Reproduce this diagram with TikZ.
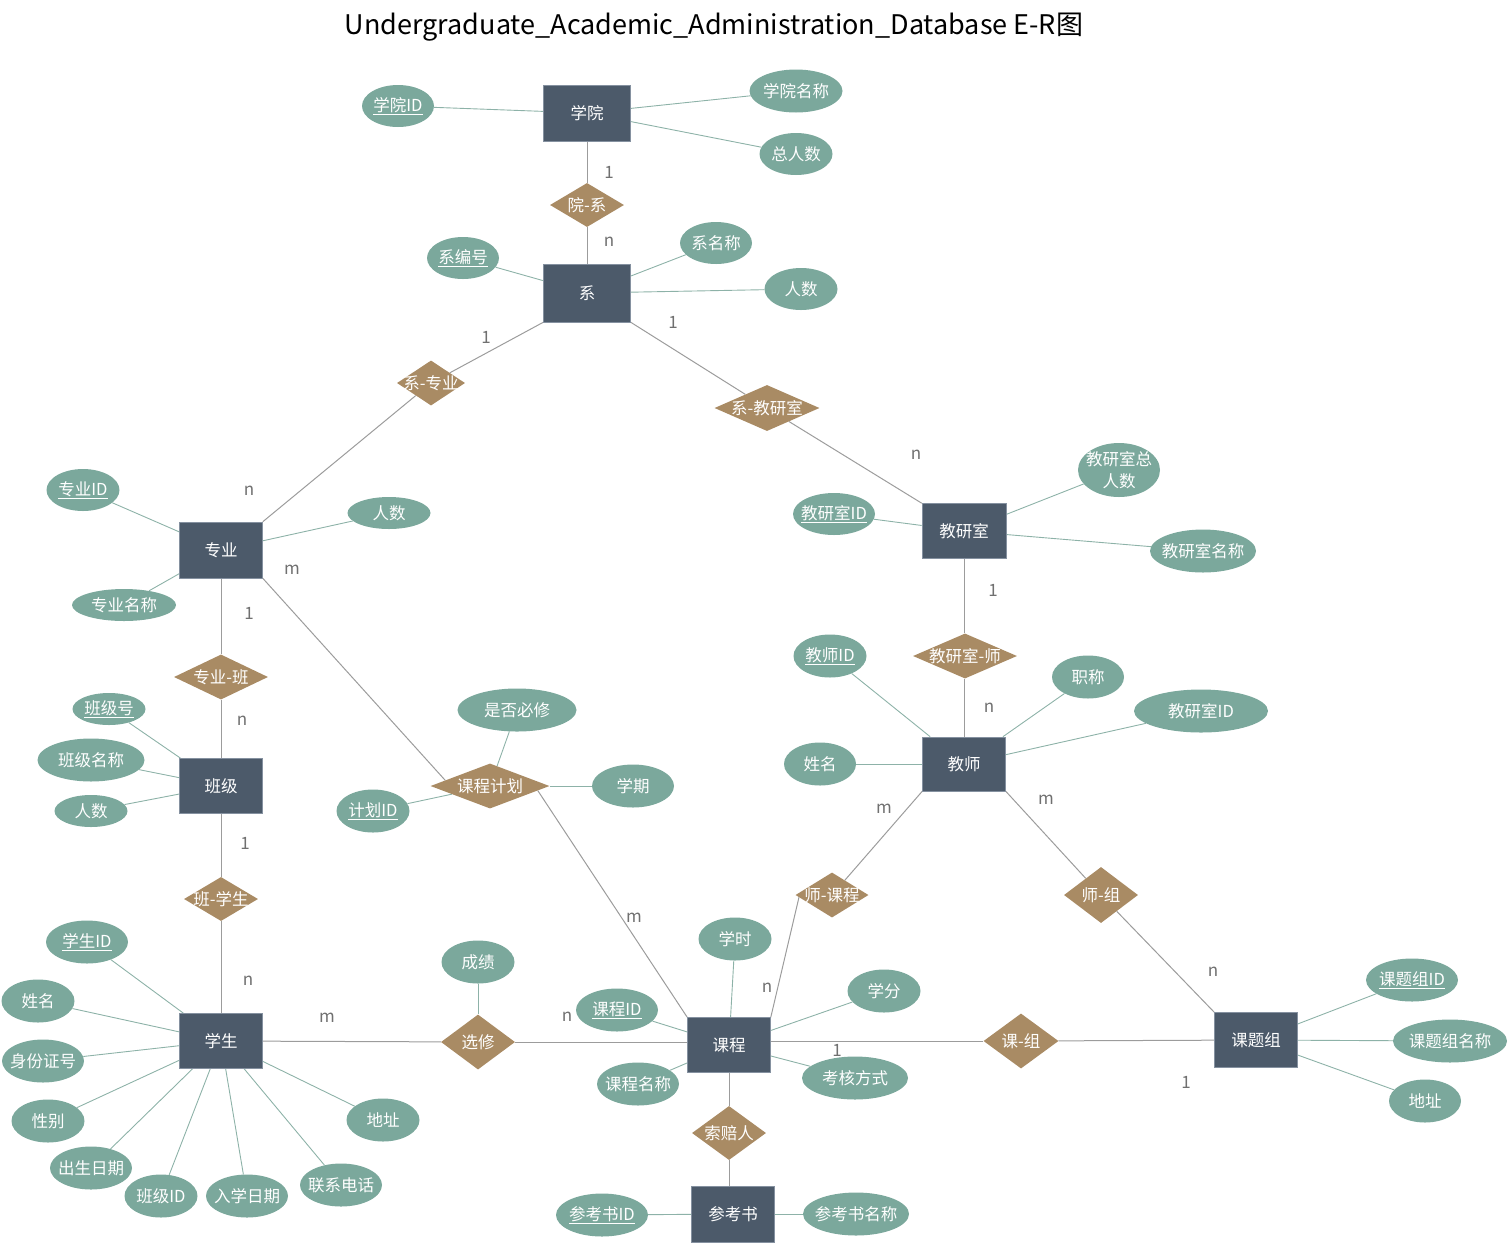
\documentclass[tikz,border=0pt]{standalone}
\usepackage{fontspec}
\usepackage{graphicx}
\setmainfont{Noto Sans CJK SC}
\usetikzlibrary{shapes.geometric,calc,backgrounds}
\definecolor{entc}{HTML}{4C5A6A}
\definecolor{entb}{HTML}{8591A0}
\definecolor{attc}{HTML}{7BA89C}
\definecolor{relc}{HTML}{A98B64}
\definecolor{rlc}{HTML}{9C9C9C}
\definecolor{alc}{HTML}{8DB2A8}
\definecolor{cardc}{HTML}{707070}
\begin{document}
\begin{tikzpicture}[x=1pt,y=-1pt,
  lbl/.style={text=white, font=\fontsize{16.5}{22}\selectfont, align=center, inner sep=0},
  ent/.style n args={2}{rectangle, fill=entc, draw=entb, line width=0.6pt, minimum width=#1, minimum height=#2, inner sep=0, text=white, font=\fontsize{16.5}{20}\selectfont},
  attr/.style n args={3}{ellipse, fill=attc, draw=none, inner sep=0, minimum width=#1, minimum height=#2, label={[lbl]center:#3}},
  rel/.style n args={3}{diamond, fill=relc, draw=none, inner sep=0, minimum width=#1, minimum height=#2, label={[lbl]center:#3}},
  card/.style={text=cardc, font=\fontsize{17}{20}\selectfont, inner sep=0},
  rl/.style={draw=rlc, line width=1pt},
  al/.style={draw=alc, line width=0.9pt}
]
\useasboundingbox (0,0) rectangle (1512,1243);

% title
\node[font=\fontsize{27}{32}\selectfont, inner sep=0] (title) at (714,27) {Undergraduate\_Academic\_Administration\_Database E-R图};

% entities
\node[ent={87}{56}] (xy) at (587,113) {学院};
\node[ent={87}{58}] (xi) at (587,293) {系};
\node[ent={83}{56}] (zy) at (221,550) {专业};
\node[ent={83}{55}] (bj) at (221,786) {班级};
\node[ent={83}{55}] (xs) at (221,1041) {学生};
\node[ent={84}{55}] (jys) at (964,531) {教研室};
\node[ent={83}{54}] (js) at (964,764) {教师};
\node[ent={83}{55}] (kc) at (729,1045) {课程};
\node[ent={83}{56}] (cks) at (733,1214) {参考书};
\node[ent={83}{55}] (ktz) at (1256,1040) {课题组};

% relationships
\node[rel={74}{44}{院-系}] (yx) at (587,205) {};
\node[rel={68}{45}{系-专业}] (xzy) at (431,383) {};
\node[rel={105}{46}{系-教研室}] (xjys) at (767,408) {};
\node[rel={94}{45}{专业-班}] (zyb) at (221,677) {};
\node[rel={74}{44}{班-学生}] (bxs) at (221,899) {};
\node[rel={119}{45}{课程计划}] (kcjh) at (490,786) {};
\node[rel={104}{45}{教研室-师}] (jyss) at (965,656) {};
\node[rel={73}{45}{师-课程}] (skc) at (832,895) {};
\node[rel={74}{56}{师-组}] (sz) at (1101,895) {};
\node[rel={74}{55}{选修}] (xx) at (478,1042) {};
\node[rel={75}{55}{课-组}] (kz) at (1021,1041) {};
\node[rel={74}{54}{索赔人}] (sp) at (729,1133) {};

% attributes
\node[attr={72}{42}{\underline{学院ID}}] (a1) at (398,106) {};
\node[attr={93}{43}{学院名称}] (a2) at (796,91) {};
\node[attr={73}{42}{总人数}] (a3) at (796,154) {};
\node[attr={72}{42}{\underline{系编号}}] (a4) at (463,258) {};
\node[attr={72}{42}{系名称}] (a5) at (716,243) {};
\node[attr={73}{42}{人数}] (a6) at (801,289) {};
\node[attr={73}{42}{\underline{专业ID}}] (a7) at (83,490) {};
\node[attr={83}{32}{人数}] (a8) at (389,513) {};
\node[attr={104}{32}{专业名称}] (a9) at (124,605) {};
\node[attr={73}{32}{\underline{班级号}}] (a10) at (109,709) {};
\node[attr={107}{43}{班级名称}] (a11) at (91,760) {};
\node[attr={73}{32}{人数}] (a12) at (91,811) {};
\node[attr={73}{43}{\underline{计划ID}}] (a13) at (373,811) {};
\node[attr={119}{43}{是否必修}] (a14) at (517,710) {};
\node[attr={82}{43}{学期}] (a15) at (633,786) {};
\node[attr={82}{42}{\underline{教研室ID}}] (a16) at (834,514) {};
\node[attr={82}{54}{教研室总\\人数}] (a17) at (1119,470) {};
\node[attr={106}{43}{教研室名称}] (a18) at (1203,551) {};
\node[attr={73}{43}{\underline{教师ID}}] (a19) at (830,656) {};
\node[attr={72}{43}{职称}] (a20) at (1088,677) {};
\node[attr={134}{43}{教研室ID}] (a21) at (1201,711) {};
\node[attr={72}{43}{姓名}] (a22) at (820,764) {};
\node[attr={82}{43}{\underline{学生ID}}] (a23) at (87,942) {};
\node[attr={73}{43}{姓名}] (a24) at (38,1001) {};
\node[attr={82}{43}{身份证号}] (a25) at (43,1061) {};
\node[attr={73}{43}{性别}] (a26) at (48,1121) {};
\node[attr={82}{43}{出生日期}] (a27) at (91,1168) {};
\node[attr={73}{43}{班级ID}] (a28) at (161,1196) {};
\node[attr={82}{43}{入学日期}] (a29) at (247,1196) {};
\node[attr={82}{43}{联系电话}] (a30) at (341,1185) {};
\node[attr={73}{43}{地址}] (a31) at (383,1120) {};
\node[attr={73}{43}{成绩}] (a32) at (478,962) {};
\node[attr={82}{43}{\underline{课程ID}}] (a33) at (617,1010) {};
\node[attr={82}{43}{课程名称}] (a34) at (638,1084) {};
\node[attr={73}{43}{学时}] (a35) at (735,939) {};
\node[attr={73}{43}{学分}] (a36) at (884,991) {};
\node[attr={106}{43}{考核方式}] (a37) at (855,1078) {};
\node[attr={92}{43}{\underline{参考书ID}}] (a38) at (602,1215) {};
\node[attr={106}{43}{参考书名称}] (a39) at (856,1214) {};
\node[attr={92}{43}{\underline{课题组ID}}] (a40) at (1412,980) {};
\node[attr={114}{43}{课题组名称}] (a41) at (1450,1041) {};
\node[attr={72}{43}{地址}] (a42) at (1425,1101) {};

% cardinalities
\node[card] (c1) at (609,172) {1};
\node[card] (c2) at (609,242) {n};
\node[card] (c3) at (486,337) {1};
\node[card] (c4) at (249,491) {n};
\node[card] (c5) at (673,322) {1};
\node[card] (c6) at (916,455) {n};
\node[card] (c7) at (292,570) {m};
\node[card] (c8) at (634,918) {m};
\node[card] (c9) at (249,613) {1};
\node[card] (c10) at (242,721) {n};
\node[card] (c11) at (245,843) {1};
\node[card] (c12) at (248,981) {n};
\node[card] (c13) at (993,590) {1};
\node[card] (c14) at (989,708) {n};
\node[card] (c15) at (884,809) {m};
\node[card] (c16) at (767,988) {n};
\node[card] (c17) at (1046,800) {m};
\node[card] (c18) at (1213,972) {n};
\node[card] (c19) at (327,1018) {m};
\node[card] (c20) at (567,1017) {n};
\node[card] (c21) at (837,1050) {1};
\node[card] (c22) at (1186,1082) {1};

\coordinate (p1) at ($(kcjh.west)!0.25!(kcjh.north)$);
\coordinate (p2) at ($(kcjh.east)!0.2!(kcjh.south)$);
\coordinate (p3) at ($(skc.west)!0.1!(skc.south)$);

\begin{pgfonlayer}{background}
% relationship connectors
\draw[rl] (xy) -- (yx);
\draw[rl] (yx) -- (xi);
\draw[rl] (xi.south west) -- (xzy);
\draw[rl] (xzy) -- (zy.north east);
\draw[rl] (xi.south east) -- (xjys);
\draw[rl] (xjys) -- (jys.north west);
\draw[rl] (zy) -- (zyb);
\draw[rl] (zyb) -- (bj);
\draw[rl] (bj) -- (bxs);
\draw[rl] (bxs) -- (xs);
\draw[rl] (zy.south east) -- (p1);
\draw[rl] (p2) -- (kc.north west);
\draw[rl] (jys) -- (jys |- jyss.north);
\draw[rl] (js |- jyss.south) -- (js);
\draw[rl] (js.south west) -- (skc);
\draw[rl] (p3) -- (kc.north east);
\draw[rl] (js.south east) -- (sz);
\draw[rl] (sz) -- (ktz.north west);
\draw[rl] (xs) -- (xx);
\draw[rl] (xx) -- (xx -| kc.west);
\draw[rl] (kz -| kc.east) -- (kz);
\draw[rl] (kz) -- (ktz);
\draw[rl] (kc) -- (sp);
\draw[rl] (sp) -- (sp |- cks.north);
% attribute connectors
\draw[al] (a1) -- (xy);
\draw[al] (a2) -- (xy);
\draw[al] (a3) -- (xy);
\draw[al] (a4) -- (xi);
\draw[al] (a5) -- (xi);
\draw[al] (a6) -- (xi);
\draw[al] (a7) -- (zy);
\draw[al] (a8) -- (zy);
\draw[al] (a9) -- (zy);
\draw[al] (a10) -- (bj);
\draw[al] (a11) -- (bj);
\draw[al] (a12) -- (bj);
\draw[al] (a13) -- (kcjh);
\draw[al] (a14) -- (kcjh);
\draw[al] (a15) -- (kcjh);
\draw[al] (a16) -- (jys);
\draw[al] (a17) -- (jys);
\draw[al] (a18) -- (jys);
\draw[al] (a19) -- (js);
\draw[al] (a20) -- (js);
\draw[al] (a21) -- (js);
\draw[al] (a22) -- (js);
\draw[al] (a23) -- (xs);
\draw[al] (a24) -- (xs);
\draw[al] (a25) -- (xs);
\draw[al] (a26) -- (xs);
\draw[al] (a27) -- (xs);
\draw[al] (a28) -- (xs);
\draw[al] (a29) -- (xs);
\draw[al] (a30) -- (xs);
\draw[al] (a31) -- (xs);
\draw[al] (a32) -- (xx);
\draw[al] (a33) -- (kc);
\draw[al] (a34) -- (kc);
\draw[al] (a35) -- (kc);
\draw[al] (a36) -- (kc);
\draw[al] (a37) -- (kc);
\draw[al] (a38) -- (cks);
\draw[al] (a39) -- (cks);
\draw[al] (a40) -- (ktz);
\draw[al] (a41) -- (ktz);
\draw[al] (a42) -- (ktz);
\end{pgfonlayer}
\end{tikzpicture}
\end{document}
